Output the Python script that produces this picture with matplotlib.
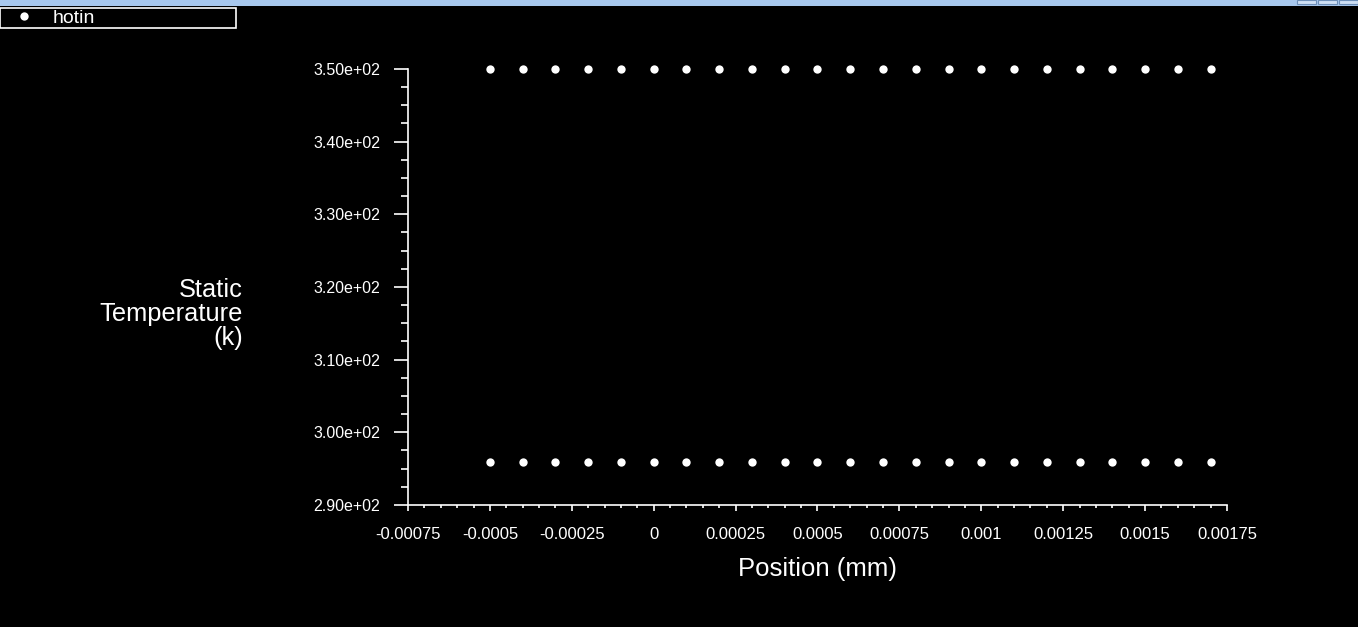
import matplotlib
matplotlib.use('Agg')
import matplotlib.pyplot as plt
from matplotlib.patches import Rectangle
from matplotlib.ticker import MultipleLocator, FormatStrFormatter

plt.rcParams['font.family'] = ['Liberation Sans', 'DejaVu Sans']

# 位置 (mm)
position = [-0.0005, -0.0004, -0.0003, -0.0002, -0.0001, 0.0, 0.0001, 0.0002,
            0.0003, 0.0004, 0.0005, 0.0006, 0.0007, 0.0008, 0.0009, 0.001,
            0.0011, 0.0012, 0.0013, 0.0014, 0.0015, 0.0016, 0.0017]
# 上下两排温度 (k)
temp_hot = [350.0, 350.0, 350.0, 350.0, 350.0, 350.0, 350.0, 350.0, 350.0, 350.0,
            350.0, 350.0, 350.0, 350.0, 350.0, 350.0, 350.0, 350.0, 350.0, 350.0,
            350.0, 350.0, 350.0]
temp_cold = [295.9, 295.9, 295.9, 295.9, 295.9, 295.9, 295.9, 295.9, 295.9, 295.9,
             295.9, 295.9, 295.9, 295.9, 295.9, 295.9, 295.9, 295.9, 295.9, 295.9,
             295.9, 295.9, 295.9]
x_ticks = [-0.00075, -0.0005, -0.00025, 0, 0.00025, 0.0005, 0.00075, 0.001,
           0.00125, 0.0015, 0.00175]
x_labels = ['-0.00075', '-0.0005', '-0.00025', '0', '0.00025', '0.0005', '0.00075',
            '0.001', '0.00125', '0.0015', '0.00175']

W, H = 1358, 627
fig = plt.figure(figsize=(W / 100, H / 100), dpi=100, facecolor='black')
ax = fig.add_axes([408 / W, 1 - 505 / H, (1227 - 408) / W, (505 - 69) / H])
ax.set_facecolor('black')

ax.plot(position + position, temp_hot + temp_cold, 'o', color='white',
        markersize=6, markeredgewidth=0, clip_on=False, label='hotin')

ax.set_xlim(-0.00075, 0.00175)
ax.set_ylim(290, 350)
for s in ['top', 'right']:
    ax.spines[s].set_visible(False)
for s in ['left', 'bottom']:
    ax.spines[s].set_color('white')
    ax.spines[s].set_linewidth(1.2)

ax.set_xticks(x_ticks)
ax.set_xticklabels(x_labels)
ax.xaxis.set_minor_locator(MultipleLocator(0.00005))
ax.yaxis.set_major_locator(MultipleLocator(10))
ax.yaxis.set_minor_locator(MultipleLocator(2.5))
ax.yaxis.set_major_formatter(FormatStrFormatter('%.2e'))
ax.tick_params(axis='both', which='both', colors='white', width=1.2)
ax.tick_params(axis='y', which='major', length=10, pad=10, labelsize=11.5)
ax.tick_params(axis='y', which='minor', length=5)
ax.tick_params(axis='x', which='major', length=4.5, pad=11, labelsize=12)
ax.tick_params(axis='x', which='minor', length=2.5)

ax.set_xlabel('Position (mm)', color='white', fontsize=18.5, labelpad=11)
fig.text(243 / W, 1 - 314 / H, 'Static\nTemperature\n(k)', color='white',
         fontsize=18.3, ha='right', va='center', linespacing=1.0)

# 窗口顶部边框
fig.patches.append(Rectangle((0, 1 - 6 / H), 1, 6 / H, transform=fig.transFigure,
                             facecolor='#a8c8ee', edgecolor='none'))
for bx in [1297, 1318, 1339]:
    fig.patches.append(Rectangle((bx / W, 1 - 4 / H), 19 / W, 4 / H,
                                 transform=fig.transFigure, facecolor='#cfe0f5',
                                 edgecolor='#6e8fb8', linewidth=0.8))

# 图例
leg = fig.legend(loc='upper left', bbox_to_anchor=(0, 1 - 26 / H, 236 / W, 18 / H),
                 mode='expand', borderaxespad=0, fontsize=14, frameon=True,
                 fancybox=False, facecolor='black', edgecolor='white',
                 framealpha=1, borderpad=0.05, handlelength=2.4,
                 handletextpad=0.25, markerscale=1.0)
leg.get_frame().set_linewidth(1.2)
for t in leg.get_texts():
    t.set_color('white')

fig.savefig('out.png', dpi=100, facecolor='black')
